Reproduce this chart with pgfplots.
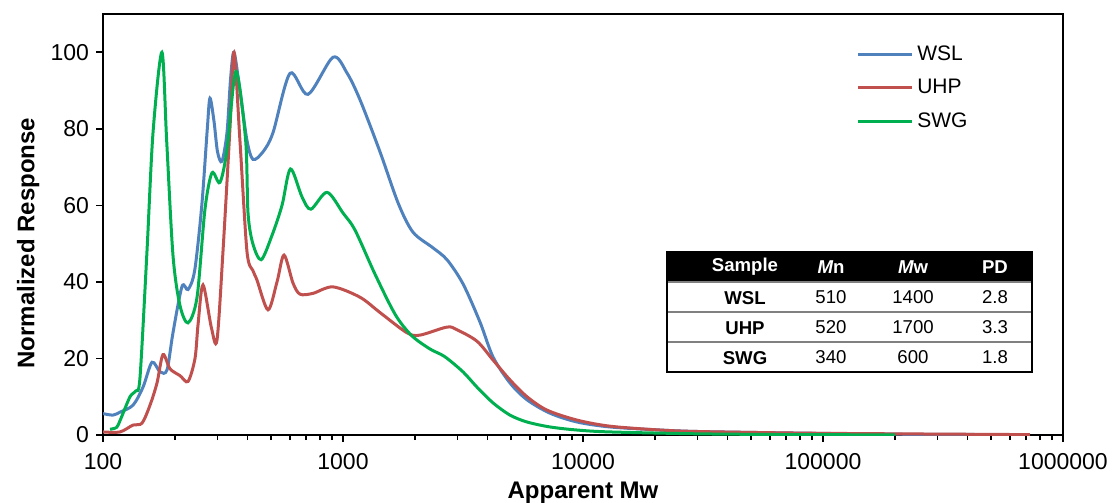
\documentclass[border=0pt]{standalone}
\usepackage{fontspec}
\setmainfont{Liberation Sans}
\usepackage{pgfplots}
\pgfplotsset{compat=1.18}
\definecolor{wsl}{HTML}{4F81BD}
\definecolor{uhp}{HTML}{C0504D}
\definecolor{swg}{HTML}{00B050}

\begin{document}
\begin{tikzpicture}
\useasboundingbox (-51.5pt,-34pt) rectangle (505.5pt,217.5pt);
\begin{axis}[
  scale only axis, width=480pt, height=210.5pt,
  xmode=log, xmin=100, xmax=1000000,
  ymin=0, ymax=110,
  xtick={100,1000,10000,100000,1000000},
  xticklabels={100,1000,10000,100000,1000000},
  ytick={0,20,...,100},
  tick align=outside, tick pos=left,
  major tick length=3.5pt, minor tick length=2.5pt,
  axis line style={line width=1pt},
  every tick/.style={black, line width=0.8pt},
  tick label style={font=\fontsize{11.5}{13}\selectfont},
  xticklabel style={yshift=-2pt},
  /pgf/number format/assume math mode=true,
  ylabel={\bfseries Normalized Response},
  xlabel={\bfseries Apparent Mw},
  label style={font=\fontsize{12}{14}\selectfont},
  ylabel style={at={(axis description cs:-0.078,0.456)}, anchor=center},
  xlabel style={at={(axis description cs:0.5,-0.137)}, anchor=center},
  legend style={at={(0.778,0.945)}, anchor=north west, draw=none, fill=none,
    font=\fontsize{10.5}{12}\selectfont, row sep=4pt},
  legend cell align=left,
  legend image code/.code={\draw[#1] (0pt,0pt) -- (27pt,0pt);},
  every axis plot/.append style={line width=1.5pt, smooth, no marks},
]
% WSL
\addplot[wsl] coordinates {
 (100,5.6) (110,5.2) (118,6) (133.4,7.8) (146.8,12.5) (160,19) (172.8,16.5)
 (184.8,17) (195.7,26.7) (213.4,38.8) (226.1,38) (241,43) (258,60) (272,80)
 (279,88) (290,82) (300,74) (313,71.5) (328.6,79) (340,93) (351.4,100)
 (372,90) (398,77) (421.7,72) (464.2,74) (510.9,79) (601.5,94.5) (714.8,89)
 (908.5,98.7) (1039,94.6) (1177,87.6) (1426,74) (1700,60.5) (1957,53)
 (2371,48.9) (2712,45.8) (3162,39.5) (3723,29.5) (4217,20.4) (4963,13.6)
 (5843,9.2) (7286,5.7) (9441,3.4) (12960,2.1) (20930,1.3) (30730,0.9)
 (80200,0.5) (209300,0.2) (728600,0.1)
};
% UHP
\addplot[uhp] coordinates {
 (100,0.8) (117.7,0.8) (133.4,2.6) (145.4,3.1) (157,7.8) (167.9,13.6) (177.8,21)
 (190.2,17.3) (209.4,15.5) (226.1,14) (241.7,20) (249,29) (261,39.2) (283,28)
 (298.5,24.8) (316.2,48) (338,80) (351.4,100) (372,77) (398,48) (421,43)
 (438,40.5) (487,32.7) (531,40) (567.9,47) (619,39.7) (662,36.8) (749,37)
 (908,38.7) (1177,36) (1426,32) (1848,26.7) (2093,26.1) (2712,28.2)
 (2985,27.5) (3617,24.5) (4217,19.6) (4963,14.4) (5843,10) (7079,6.5)
 (9441,3.9) (12960,2.3) (20930,1.3) (30730,0.9) (80200,0.5) (209300,0.3)
 (728600,0.1)
};
% SWG
\addplot[swg] coordinates {
 (107,1.5) (114,2) (118,3.9) (129.6,10) (137,11.5) (142.6,15) (152.5,48)
 (161.6,79) (176,100) (184.2,77) (195.7,47) (209,34) (226,29.3) (246.5,36)
 (266,59) (284.6,68.5) (307,66) (328.6,74.5) (358,95) (393,77) (402,58)
 (421,50) (456,45.8) (505,52) (557,60) (604,69.5) (675,62.2) (735,59)
 (858,63.4) (1000,58) (1123,53.5) (1360,42) (1650,31.5) (1930,26) (2300,22.5)
 (2650,20.5) (3162,16.5) (3617,12.5) (4217,8.4) (4963,5.2) (5843,3.4)
 (7286,2.1) (9441,1.3) (12960,0.8) (30730,0.3) (80200,0.1) (200000,0.05)
};
\legend{WSL,UHP,SWG}
\end{axis}
% inset table
\begin{scope}[font=\fontsize{9.3}{10}\selectfont]
\fill[black] (282pt,76.5pt) rectangle (464.5pt,91.5pt);
\draw[gray, line width=0.6pt] (282pt,76.5pt) -- (464.5pt,76.5pt)
  (282pt,61.5pt) -- (464.5pt,61.5pt) (282pt,46.5pt) -- (464.5pt,46.5pt);
\draw[black, line width=0.6pt] (282pt,31.5pt) rectangle (464.5pt,91.5pt);
\node[white] at (321pt,84pt) {\bfseries Sample};
\node[white] at (364pt,84pt) {\bfseries\itshape M\upshape n};
\node[white] at (405pt,84pt) {\bfseries\itshape M\upshape w};
\node[white] at (446pt,84pt) {\bfseries PD};
\node at (321pt,68.5pt) {\bfseries WSL};
\node at (364pt,69pt) {510};
\node at (405pt,69pt) {1400};
\node at (446pt,69pt) {2.8};
\node at (321pt,53.5pt) {\bfseries UHP};
\node at (364pt,54pt) {520};
\node at (405pt,54pt) {1700};
\node at (446pt,54pt) {3.3};
\node at (321pt,38.5pt) {\bfseries SWG};
\node at (364pt,39pt) {340};
\node at (405pt,39pt) {600};
\node at (446pt,39pt) {1.8};
\end{scope}
\end{tikzpicture}
\end{document}
